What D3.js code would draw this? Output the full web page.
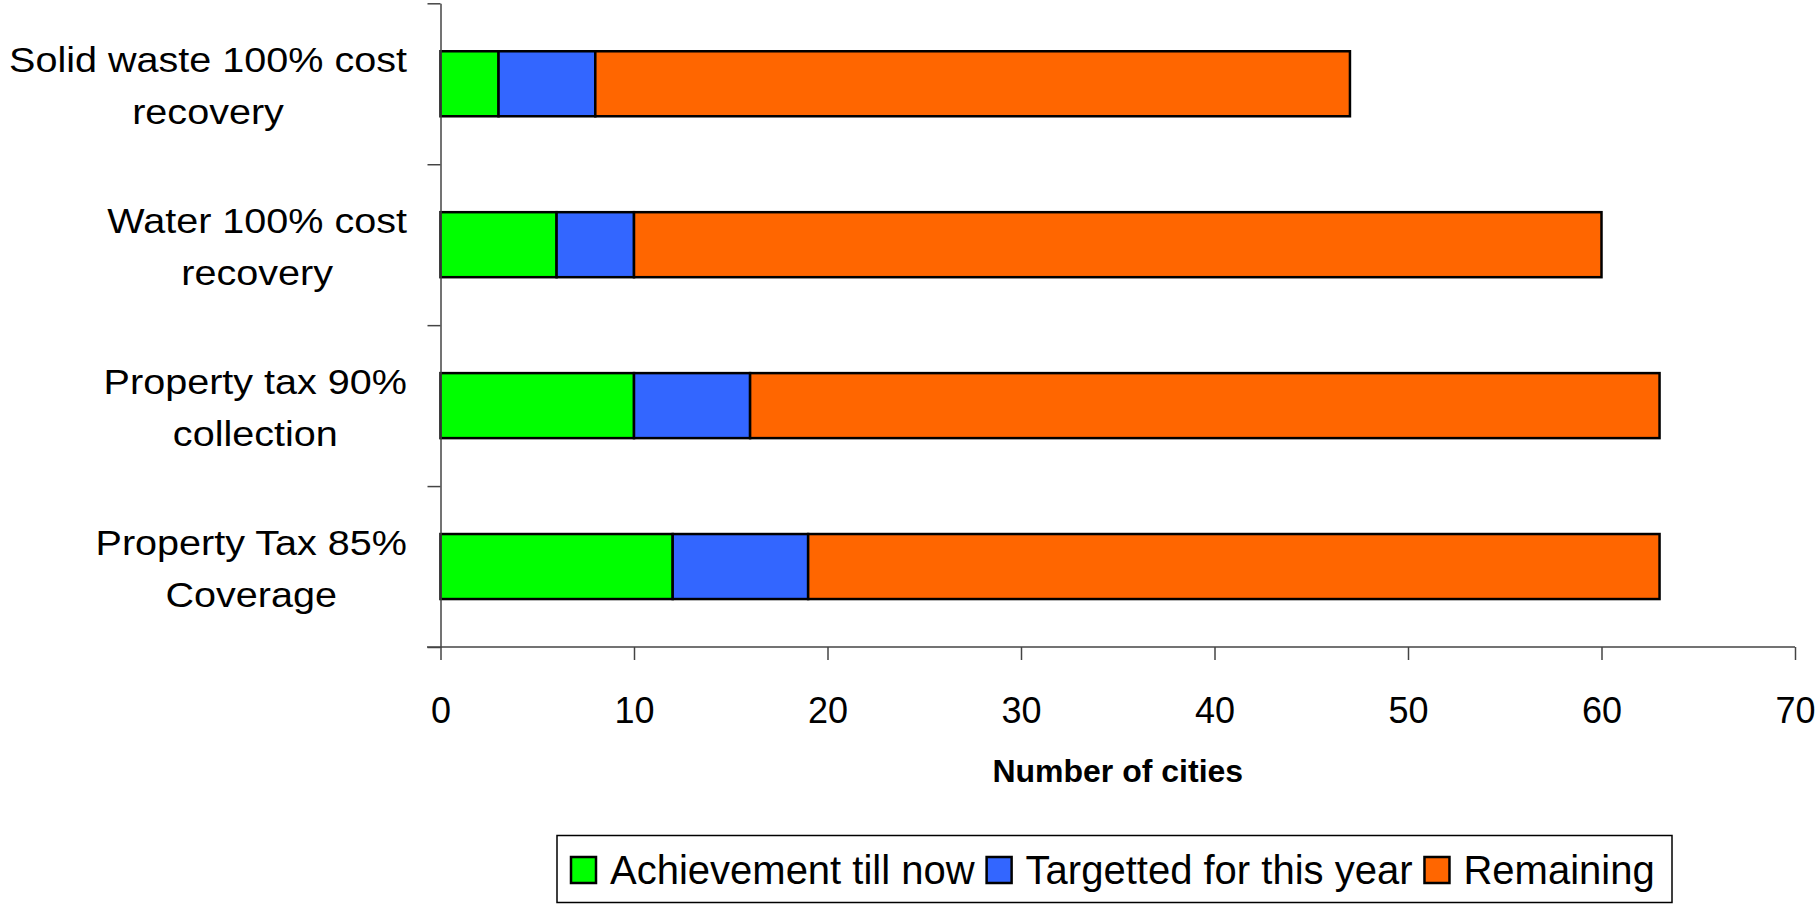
<!DOCTYPE html>
<html>
<head>
<meta charset="utf-8">
<script src="https://cdn.jsdelivr.net/npm/d3@7"></script>
<style>
  html, body { margin: 0; padding: 0; background: #fff; }
  svg { display: block; font-family: "Liberation Sans", Arial, sans-serif; }
</style>
</head>
<body>
<svg id="chart" width="1816" height="904"></svg>
<script>
// ---- data ----
const categories = [
  "Solid waste 100% cost\nrecovery",
  "Water 100% cost\nrecovery",
  "Property tax 90%\ncollection",
  "Property Tax 85%\nCoverage"
];
const seriesNames = ["Achievement till now", "Targetted for this year", "Remaining"];
const achievement = [3, 6, 10, 12];
const targetted   = [5, 4, 6, 7];
const remaining   = [39, 50, 47, 44];
const xTicks = [0, 10, 20, 30, 40, 50, 60, 70];
const xTitle = "Number of cities";
const colors = ["#00FF00", "#3366FF", "#FF6600"];

// ---- layout ----
const svg = d3.select("#chart");
const x = d3.scaleLinear().domain([0, 70]).range([440.5, 1795]);
const y = d3.scaleBand().domain(categories).range([3.3, 647])
  .paddingInner(0.596).paddingOuter(0.298);
const yEdges = d3.scaleLinear().domain([0, categories.length]).range([3.3, 647]);

const rows = categories.map((c, i) => ({ cat: c, vals: [achievement[i], targetted[i], remaining[i]] }));
const stack = d3.stack().keys([0, 1, 2]).value((d, k) => d.vals[k]);
const stacked = stack(rows);

// bars
const layers = svg.append("g").selectAll("g").data(stacked).join("g")
  .attr("fill", (d, i) => colors[i]);
layers.selectAll("rect").data(d => d).join("rect")
  .attr("x", d => x(d[0]))
  .attr("width", d => x(d[1]) - x(d[0]))
  .attr("y", d => y(d.data.cat))
  .attr("height", y.bandwidth())
  .attr("stroke", "#000")
  .attr("stroke-width", 2.5);

// y axis
const yAxis = svg.append("g").attr("transform", "translate(440.5,0)")
  .call(d3.axisLeft(yEdges).ticks(categories.length).tickFormat("").tickSize(13).tickSizeOuter(0));
yAxis.select(".domain").attr("stroke", "#444").attr("stroke-width", 1.5);
yAxis.selectAll(".tick line").attr("stroke", "#444").attr("stroke-width", 1.5);

// x axis
const xAxis = svg.append("g").attr("transform", "translate(0,647)")
  .call(d3.axisBottom(x).tickValues(xTicks).tickSize(13));
xAxis.select(".domain").remove();
xAxis.append("line").attr("x1", 427).attr("x2", x(70)).attr("y1", 0).attr("y2", 0)
  .attr("stroke", "#444").attr("stroke-width", 1.5);
xAxis.selectAll(".tick line").attr("stroke", "#444").attr("stroke-width", 1.5);
xAxis.selectAll(".tick text").attr("font-size", 36).attr("fill", "#000")
  .attr("font-family", "'Liberation Sans', Arial, sans-serif")
  .attr("dy", null).attr("y", 76);

// x title
svg.append("text").attr("x", (x(0) + x(70)) / 2).attr("y", 782)
  .attr("text-anchor", "middle").attr("font-size", 32).attr("font-weight", "bold")
  .text(xTitle);

// category labels
const labelRight = 407;
const stretch = 1.13;
categories.forEach(cat => {
  const lines = cat.split("\n");
  const cy = y(cat) + y.bandwidth() / 2;
  const g = svg.append("g");
  const texts = lines.map((ln, j) => g.append("text")
    .attr("y", cy - 12 + j * 52)
    .attr("text-anchor", "middle")
    .attr("font-size", 35)
    .text(ln));
  const widths = texts.map(t => t.node().getComputedTextLength() * stretch);
  const maxW = d3.max(widths);
  const cx = labelRight - maxW / 2;
  texts.forEach((t, j) => t.attr("x", cx)
    .attr("textLength", widths[j]).attr("lengthAdjust", "spacingAndGlyphs"));
});

// legend
const lg = svg.append("g");
lg.append("rect").attr("x", 557).attr("y", 835.5).attr("width", 1115).attr("height", 67)
  .attr("fill", "#fff").attr("stroke", "#000").attr("stroke-width", 1.5);
let lx = 571;
seriesNames.forEach((name, i) => {
  lg.append("rect").attr("x", lx).attr("y", 857).attr("width", 25).attr("height", 26)
    .attr("fill", colors[i]).attr("stroke", "#000").attr("stroke-width", 2.5);
  const t = lg.append("text").attr("x", lx + 39).attr("y", 884)
    .attr("font-size", 40).text(name);
  const w = t.node().getComputedTextLength();
  lx = lx + 39 + w + 12;
});
</script>
</body>
</html>
